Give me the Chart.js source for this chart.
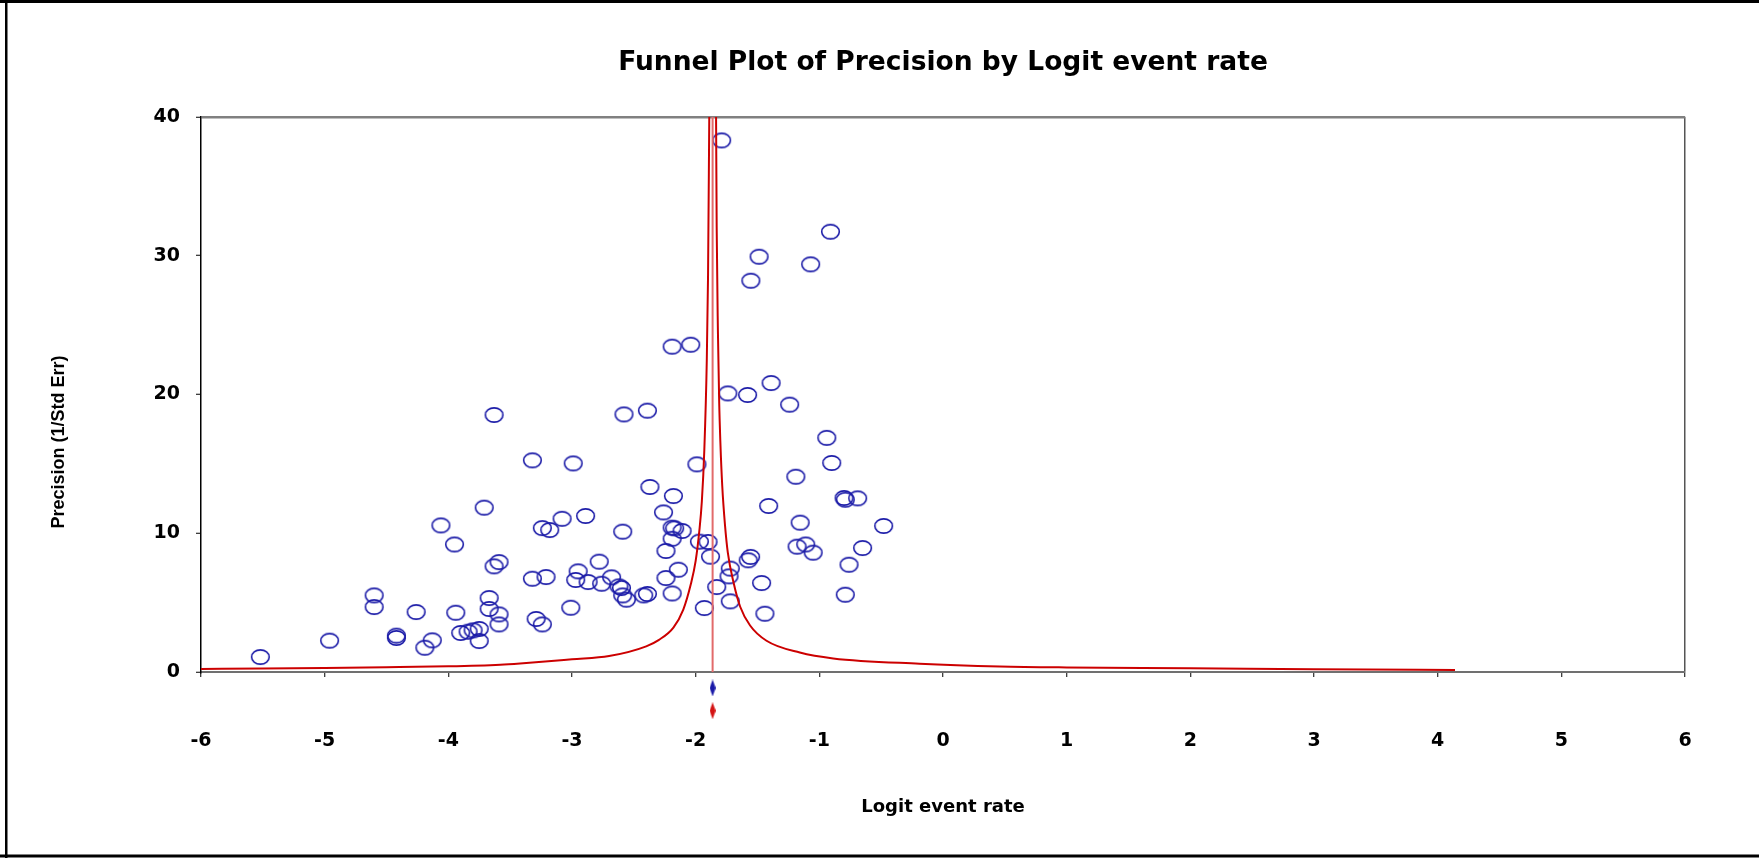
<!DOCTYPE html>
<html>
<head>
<meta charset="utf-8">
<title>Funnel Plot of Precision by Logit event rate</title>
<script src="https://cdn.jsdelivr.net/npm/chart.js@4.4.1/dist/chart.umd.min.js"></script>
<style>
  html, body { margin: 0; padding: 0; background: #fff; }
  #wrap { width: 1759px; height: 858px; }
</style>
</head>
<body>
<div id="wrap"><canvas id="funnelChart" width="1759" height="858"></canvas></div>
<script>
// Studies: logit event rate and precision (1/SE)
const studyLogit = [
  -5.52, -4.96, -4.60, -4.60, -4.42, -4.42, -4.26, -4.19, -4.13, -4.06,
  -3.95, -3.94, -3.90, -3.84, -3.80, -3.75, -3.75, -3.71, -3.67, -3.67,
  -3.63, -3.63, -3.59, -3.59, -3.59, -3.32, -3.32, -3.29, -3.24, -3.24,
  -3.21, -3.18, -3.08, -3.01, -2.99, -2.97, -2.95, -2.89, -2.87, -2.78,
  -2.76, -2.68, -2.62, -2.60, -2.59, -2.59, -2.58, -2.56, -2.42, -2.39,
  -2.39, -2.37, -2.26, -2.24, -2.24, -2.19, -2.19, -2.17, -2.19, -2.19,
  -2.18, -2.14, -2.11, -2.04, -1.99, -1.97, -1.93, -1.90, -1.88, -1.83,
  -1.79, -1.74, -1.72, -1.73, -1.72, -1.58, -1.575, -1.556, -1.554, -1.487,
  -1.467, -1.44, -1.41, -1.39, -1.24, -1.19, -1.18, -1.155, -1.11, -1.07,
  -1.05, -0.94, -0.91, -0.90, -0.80, -0.79, -0.79, -0.76, -0.69, -0.65,
  -0.48
];
const studyPrecision = [
  1.08, 2.26, 5.52, 4.68, 2.62, 2.45, 4.32, 1.75, 2.28, 10.56,
  9.19, 4.27, 2.81, 2.90, 3.00, 3.10, 2.23, 11.84, 5.33, 4.54,
  7.61, 18.52, 7.92, 4.15, 3.43, 15.25, 6.72, 3.82, 10.37, 3.43,
  6.84, 10.23, 11.04, 4.63, 15.03, 6.63, 7.25, 11.24, 6.48, 7.95,
  6.36, 6.82, 6.17, 6.05, 10.11, 5.52, 18.56, 5.21, 5.52, 5.62,
  18.83, 13.33, 11.50, 8.72, 6.77, 23.44, 10.40, 10.35, 9.60, 5.66,
  12.68, 7.37, 10.16, 23.58, 14.96, 9.39, 4.61, 9.37, 8.31, 6.12,
  38.30, 20.07, 7.45, 6.89, 5.09, 19.96, 8.05, 8.29, 28.19, 29.92,
  6.41, 4.20, 11.96, 20.82, 19.26, 14.07, 9.03, 10.76, 9.19, 29.37,
  8.60, 16.87, 31.72, 15.06, 12.54, 12.41, 5.57, 7.73, 12.51, 8.93,
  10.52
];

// Pooled logit and its vertical line
const pooledLogit = -1.863;
const pooledLineY = [0, 40];

// Funnel limits, left and right of the pooled value
const leftLimitX = [-6.0, -5.5, -5.0, -4.5, -4.0, -3.58, -3.42, -3.0, -2.7, -2.4, -2.3, -2.18, -2.1, -2.04, -2.0, -1.97, -1.95, -1.93, -1.91, -1.9, -1.89];
const leftLimitY = [0.22, 0.25, 0.29, 0.34, 0.41, 0.53, 0.62, 0.92, 1.15, 1.85, 2.3, 3.2, 4.5, 6.3, 8.0, 10.2, 12.3, 16.0, 22.5, 28.5, 40.0];
const rightLimitX = [-1.835, -1.83, -1.82, -1.81, -1.8, -1.785, -1.763, -1.74, -1.695, -1.64, -1.56, -1.427, -1.158, -0.888, -0.19, 0.46, 1.0, 2.0, 3.0, 4.14];
const rightLimitY = [40.0, 32.0, 24.5, 19.5, 16.5, 13.4, 10.6, 8.6, 6.5, 4.7, 3.35, 2.25, 1.4, 0.98, 0.6, 0.4, 0.33, 0.27, 0.2, 0.14];

// Summary diamonds under the axis
const diamondY = [-1.15, -2.79];

// Axis ticks
const xTickValues = [-6, -5, -4, -3, -2, -1, 0, 1, 2, 3, 4, 5, 6];
const yTickValues = [0, 10, 20, 30, 40];

const titleText = "Funnel Plot of Precision by Logit event rate";
const xTitleText = "Logit event rate";
const yTitleText = "Precision (1/Std Err)";

// Marker images
function makeEllipse(color) {
  const c = document.createElement("canvas");
  c.width = 21;
  c.height = 18;
  const g = c.getContext("2d");
  g.strokeStyle = color;
  g.lineWidth = 1.6;
  g.beginPath();
  g.ellipse(10.5, 9, 8.8, 7.1, 0, 0, Math.PI * 2);
  g.stroke();
  return c;
}

function makeDiamond(color) {
  const c = document.createElement("canvas");
  c.width = 6;
  c.height = 17;
  const g = c.getContext("2d");
  g.fillStyle = color;
  g.beginPath();
  g.moveTo(3, 0);
  g.lineTo(6, 8.5);
  g.lineTo(3, 17);
  g.lineTo(0, 8.5);
  g.closePath();
  g.fill();
  return c;
}

const toPoints = (xs, ys) => xs.map((x, i) => ({ x: x, y: ys[i] }));

// White page with the black frame around it
const pageFrame = {
  id: "pageFrame",
  beforeDraw(chart) {
    const c = chart.ctx;
    c.save();
    c.fillStyle = "#fff";
    c.fillRect(0, 0, chart.width, chart.height);
    c.fillStyle = "#000";
    c.fillRect(0, 0, chart.width, 3);
    c.fillRect(5, 0, 2.5, chart.height);
    c.fillRect(0, 854.5, chart.width, 3);
    c.restore();
  }
};

// Rotated y title, placed lower than the scale would put it
const yTitle = {
  id: "yTitle",
  afterDraw(chart) {
    const c = chart.ctx;
    c.save();
    c.translate(59, 442);
    c.rotate(-Math.PI / 2);
    c.font = 'bold 18px "Liberation Sans", Arial, sans-serif';
    c.fillStyle = "#000";
    c.textAlign = "center";
    c.textBaseline = "middle";
    c.fillText(yTitleText, 0, 0);
    c.restore();
  }
};

const tickFont = { family: "DejaVu Sans", size: 19, weight: "bold", lineHeight: 1.2 };

new Chart(document.getElementById("funnelChart"), {
  type: "scatter",
  data: {
    datasets: [
      {
        label: "Pooled",
        data: pooledLineY.map(y => ({ x: pooledLogit, y: y })),
        showLine: true,
        borderColor: "#e26a6a",
        borderWidth: 2,
        pointRadius: 0
      },
      {
        label: "Lower limit",
        data: toPoints(leftLimitX, leftLimitY),
        showLine: true,
        borderColor: "#cc0000",
        borderWidth: 2,
        pointRadius: 0,
        cubicInterpolationMode: "monotone"
      },
      {
        label: "Upper limit",
        data: toPoints(rightLimitX, rightLimitY),
        showLine: true,
        borderColor: "#cc0000",
        borderWidth: 2,
        pointRadius: 0,
        cubicInterpolationMode: "monotone"
      },
      {
        label: "Studies",
        data: toPoints(studyLogit, studyPrecision),
        pointStyle: makeEllipse("#1c1ca8"),
        pointRadius: 9
      },
      {
        label: "Fixed",
        data: [{ x: pooledLogit, y: diamondY[0] }],
        pointStyle: makeDiamond("#1a1aa8"),
        pointRadius: 45,
        clip: false
      },
      {
        label: "Random",
        data: [{ x: pooledLogit, y: diamondY[1] }],
        pointStyle: makeDiamond("#d41414"),
        pointRadius: 45,
        clip: false
      }
    ]
  },
  options: {
    responsive: false,
    animation: false,
    events: [],
    layout: { padding: { left: 0, right: 74, top: 0, bottom: 0 } },
    plugins: {
      legend: { display: false },
      tooltip: { enabled: false },
      title: {
        display: true,
        text: titleText,
        fullSize: false,
        color: "#000",
        font: { family: "DejaVu Sans", size: 26.5, weight: "bold", lineHeight: 1.2 },
        padding: { top: 47, bottom: 38 }
      }
    },
    scales: {
      x: {
        type: "linear",
        min: -6,
        max: 6,
        afterBuildTicks: s => { s.ticks = xTickValues.map(v => ({ value: v })); },
        afterFit: s => { s.height = 186; },
        border: { color: "#707070", width: 2 },
        grid: {
          color: c => (c.tick && c.tick.value === 6 ? "#555" : "transparent"),
          lineWidth: 1.5,
          tickLength: 5,
          tickColor: "#000",
          tickWidth: 1
        },
        ticks: { color: "#000", padding: 53, font: tickFont, maxRotation: 0, autoSkip: false },
        title: {
          display: true,
          text: xTitleText,
          color: "#000",
          font: { family: "DejaVu Sans", size: 18, weight: "bold", lineHeight: 1.2 },
          padding: { top: 0, bottom: 40 }
        }
      },
      y: {
        type: "linear",
        min: 0,
        max: 40,
        afterBuildTicks: s => { s.ticks = yTickValues.map(v => ({ value: v })); },
        afterFit: s => { s.width = 201; },
        border: { color: "#000", width: 1.5 },
        grid: {
          color: c => (c.tick && c.tick.value === 40 ? "#808080" : "transparent"),
          lineWidth: 2.5,
          tickLength: 5,
          tickColor: "#000",
          tickWidth: 1
        },
        ticks: { color: "#000", padding: 16, font: tickFont }
      }
    }
  },
  plugins: [pageFrame, yTitle]
});
</script>
</body>
</html>
